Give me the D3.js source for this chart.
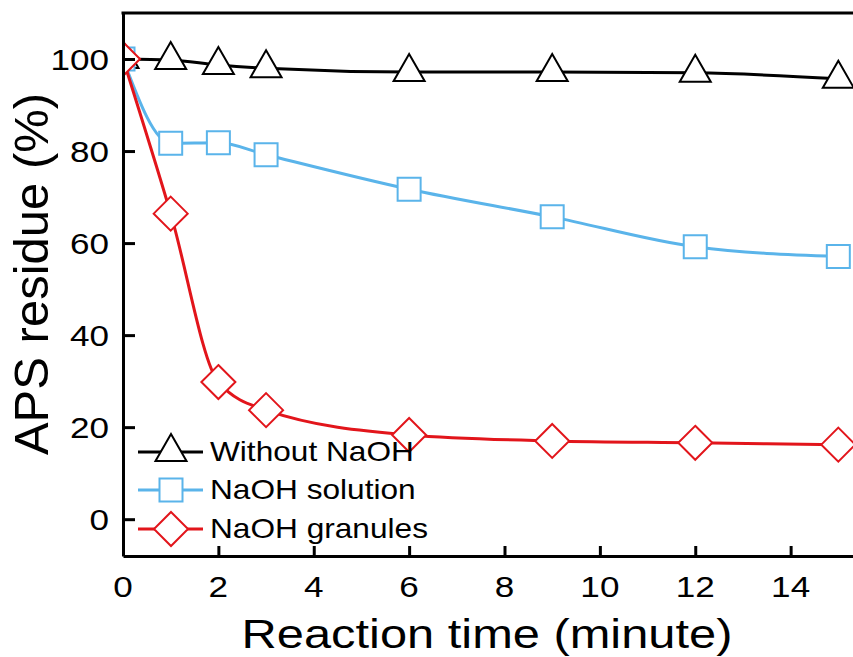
<!DOCTYPE html>
<html>
<head>
<meta charset="utf-8">
<script src="https://cdn.jsdelivr.net/npm/d3@7"></script>
<style>
  html, body { margin: 0; padding: 0; background: #fff; }
  svg { display: block; }
  text { font-family: "Liberation Sans", Arial, sans-serif; fill: #000; }
</style>
</head>
<body>
<svg id="chart" width="853" height="657"></svg>
<script>
// ---- data ----
const times = [0, 1, 2, 3, 6, 9, 12, 15];
const withoutNaOH = [100, 99.8, 98.7, 98.0, 97.2, 97.2, 97.0, 95.7];
const naohSolution = [100, 81.7, 81.8, 79.2, 71.7, 65.7, 59.2, 57.1];
const naohGranules = [100, 66.4, 29.8, 23.7, 18.3, 17.0, 16.6, 16.2];
const seriesNames = ["Without NaOH", "NaOH solution", "NaOH granules"];
const seriesColors = ["#000000", "#5ab4ea", "#e2151b"];
const seriesShapes = ["triangle", "square", "diamond"];
const xTicks = [0, 2, 4, 6, 8, 10, 12, 14];
const yTicks = [0, 20, 40, 60, 80, 100];
const xTitle = "Reaction time (minute)";
const yTitle = "APS residue (%)";

(function () {
const series = [withoutNaOH, naohSolution, naohGranules].map((vals, i) => ({
  name: seriesNames[i], color: seriesColors[i], shape: seriesShapes[i],
  points: times.map((t, j) => ({ x: t, y: vals[j] }))
}));

// ---- layout ----
const svg = d3.select("#chart");
const mLeft = 123, mTop = 13, mBottom = 556, mRight = 886;
const x = d3.scaleLinear().domain([0, 16]).range([mLeft, mRight]);
const y = d3.scaleLinear().domain([-8, 110]).range([mBottom, mTop]);

function shapePath(shape) {
  if (shape === "triangle") return "M0,-18L15.5,9L-15.5,9Z";
  if (shape === "square") return "M-11.5,-11.5H11.5V11.5H-11.5Z";
  return "M0,-17L17,0L0,17L-17,0Z";
}

svg.append("defs").append("clipPath").attr("id", "plotclip")
  .append("rect").attr("x", mLeft).attr("y", mTop).attr("width", mRight - mLeft).attr("height", mBottom - mTop);

const plot = svg.append("g").attr("clip-path", "url(#plotclip)");

const line = d3.line().x(d => x(d.x)).y(d => y(d.y)).curve(d3.curveMonotoneX);

series.forEach(s => {
  plot.append("path").datum(s.points)
    .attr("d", line).attr("fill", "none")
    .attr("stroke", s.color).attr("stroke-width", 3);
});
series.forEach(s => {
  plot.selectAll(null).data(s.points).enter().append("path")
    .attr("d", shapePath(s.shape))
    .attr("transform", d => `translate(${x(d.x)},${y(d.y)})`)
    .attr("fill", "#fff").attr("stroke", s.color).attr("stroke-width", 2);
});

// ---- axes ----
const xAxis = d3.axisBottom(x).tickValues(xTicks).tickSizeInner(-10).tickSizeOuter(0).tickFormat("");
const gx = svg.append("g").attr("transform", `translate(0,${mBottom})`).call(xAxis);
const yAxis = d3.axisLeft(y).tickValues(yTicks).tickSizeInner(-12).tickSizeOuter(0).tickFormat("");
const gy = svg.append("g").attr("transform", `translate(${mLeft},0)`).call(yAxis);
[gx, gy].forEach(g => {
  g.select(".domain").attr("stroke", "#000").attr("stroke-width", 3);
  g.selectAll(".tick line").attr("stroke", "#000").attr("stroke-width", 3);
});
// top spine
svg.append("line").attr("x1", mLeft - 1.5).attr("x2", mRight).attr("y1", mTop).attr("y2", mTop)
  .attr("stroke", "#000").attr("stroke-width", 3);

// tick labels (horizontally stretched as in the original)
xTicks.forEach(t => {
  svg.append("text").attr("transform", `translate(${x(t)},597) scale(1.17,1)`)
    .attr("text-anchor", "middle").attr("font-size", 30).text(t);
});
yTicks.forEach(t => {
  svg.append("text").attr("transform", `translate(109,${y(t) + 10.5}) scale(1.17,1)`)
    .attr("text-anchor", "end").attr("font-size", 30).text(t);
});

// axis titles
svg.append("text").attr("transform", `translate(487,648) scale(1.22,1)`)
  .attr("text-anchor", "middle").attr("font-size", 40).text(xTitle);
svg.append("text").attr("transform", `translate(48,274) rotate(-90)`)
  .attr("text-anchor", "middle").attr("font-size", 49).text(yTitle);

// ---- legend ----
const legendY = [452, 490, 529];
series.forEach((s, i) => {
  const g = svg.append("g").attr("transform", `translate(0,${legendY[i]})`);
  g.append("line").attr("x1", 138).attr("x2", 203).attr("y1", 0).attr("y2", 0)
    .attr("stroke", s.color).attr("stroke-width", 3);
  g.append("path").attr("d", shapePath(s.shape)).attr("transform", "translate(171,0)")
    .attr("fill", "#fff").attr("stroke", s.color).attr("stroke-width", 2);
  g.append("text").attr("transform", "translate(210,9) scale(1.13,1)")
    .attr("font-size", 28).text(s.name);
});
})();
</script>
</body>
</html>
